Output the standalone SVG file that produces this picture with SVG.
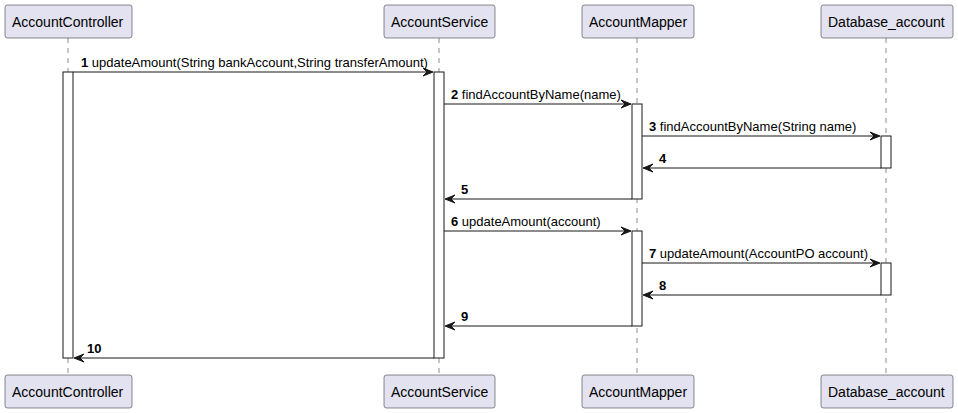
<svg xmlns="http://www.w3.org/2000/svg" width="958" height="413" viewBox="0 0 958 413">
<style>
.life{stroke:#181818;stroke-width:0.5;stroke-dasharray:5,5;fill:none}
.pbox{fill:#E2E2F0;stroke:#181818;stroke-width:0.5}
.pname{font-family:"Liberation Sans",Arial,sans-serif;font-size:14px;fill:#000}
.act{fill:#FFFFFF;stroke:#181818;stroke-width:1}
.msg{stroke:#181818;stroke-width:1;fill:none}
.head{fill:#181818;stroke:#181818;stroke-width:1}
.lbl{font-family:"Liberation Sans",Arial,sans-serif;font-size:13px;fill:#000}
.num{font-weight:bold}
</style>
<rect width="958" height="413" fill="#FFFFFF"/>
<g id="lifelines">
<line class="life" x1="68" y1="38" x2="68" y2="375"/>
<line class="life" x1="439" y1="38" x2="439" y2="375"/>
<line class="life" x1="637" y1="38" x2="637" y2="375"/>
<line class="life" x1="886" y1="38" x2="886" y2="375"/>
</g>
<g id="activations">
<rect class="act" x="63" y="72" width="10" height="286"/>
<rect class="act" x="434" y="72" width="10" height="286"/>
<rect class="act" x="632" y="104" width="10" height="95"/>
<rect class="act" x="881" y="136" width="10" height="32"/>
<rect class="act" x="632" y="231" width="10" height="95"/>
<rect class="act" x="881" y="263" width="10" height="32"/>
</g>
<g id="AccountController">
<rect class="pbox" x="5" y="5" width="127" height="33" rx="2.5"/>
<text class="pname" x="12" y="26.5">AccountController</text>
<rect class="pbox" x="5" y="375" width="127" height="33" rx="2.5"/>
<text class="pname" x="12" y="396.5">AccountController</text>
</g>
<g id="AccountService">
<rect class="pbox" x="384" y="5" width="111" height="33" rx="2.5"/>
<text class="pname" x="391" y="26.5">AccountService</text>
<rect class="pbox" x="384" y="375" width="111" height="33" rx="2.5"/>
<text class="pname" x="391" y="396.5">AccountService</text>
</g>
<g id="AccountMapper">
<rect class="pbox" x="582" y="5" width="112" height="33" rx="2.5"/>
<text class="pname" x="589" y="26.5">AccountMapper</text>
<rect class="pbox" x="582" y="375" width="112" height="33" rx="2.5"/>
<text class="pname" x="589" y="396.5">AccountMapper</text>
</g>
<g id="Database_account">
<rect class="pbox" x="821" y="5" width="132" height="33" rx="2.5"/>
<text class="pname" x="828" y="26.5">Database_account</text>
<rect class="pbox" x="821" y="375" width="132" height="33" rx="2.5"/>
<text class="pname" x="828" y="396.5">Database_account</text>
</g>
<g id="connectors">
<line class="msg" x1="73" y1="72" x2="432" y2="72"/>
<polygon class="head" points="423,68 433,72 423,76 427,72"/>
<text class="lbl" x="81" y="67"><tspan class="num">1</tspan> updateAmount(String bankAccount,String transferAmount)</text>

<line class="msg" x1="444" y1="104" x2="630" y2="104"/>
<polygon class="head" points="621,100 631,104 621,108 625,104"/>
<text class="lbl" x="451" y="99"><tspan class="num">2</tspan> findAccountByName(name)</text>

<line class="msg" x1="642" y1="136" x2="879" y2="136"/>
<polygon class="head" points="870,132 880,136 870,140 874,136"/>
<text class="lbl" x="649" y="131"><tspan class="num">3</tspan> findAccountByName(String name)</text>

<line class="msg" x1="644" y1="168" x2="881" y2="168"/>
<polygon class="head" points="653,164 643,168 653,172 649,168"/>
<text class="lbl num" x="659" y="163">4</text>

<line class="msg" x1="446" y1="199" x2="632" y2="199"/>
<polygon class="head" points="455,195 445,199 455,203 451,199"/>
<text class="lbl num" x="461" y="194">5</text>

<line class="msg" x1="444" y1="231" x2="630" y2="231"/>
<polygon class="head" points="621,227 631,231 621,235 625,231"/>
<text class="lbl" x="451" y="226"><tspan class="num">6</tspan> updateAmount(account)</text>

<line class="msg" x1="642" y1="263" x2="879" y2="263"/>
<polygon class="head" points="870,259 880,263 870,267 874,263"/>
<text class="lbl" x="649" y="258"><tspan class="num">7</tspan> updateAmount(AccountPO account)</text>

<line class="msg" x1="644" y1="295" x2="881" y2="295"/>
<polygon class="head" points="653,291 643,295 653,299 649,295"/>
<text class="lbl num" x="659" y="290">8</text>

<line class="msg" x1="446" y1="326" x2="632" y2="326"/>
<polygon class="head" points="455,322 445,326 455,330 451,326"/>
<text class="lbl num" x="461" y="321">9</text>

<line class="msg" x1="75" y1="358" x2="434" y2="358"/>
<polygon class="head" points="84,354 74,358 84,362 80,358"/>
<text class="lbl num" x="87" y="353">10</text>
</g>
</svg>
